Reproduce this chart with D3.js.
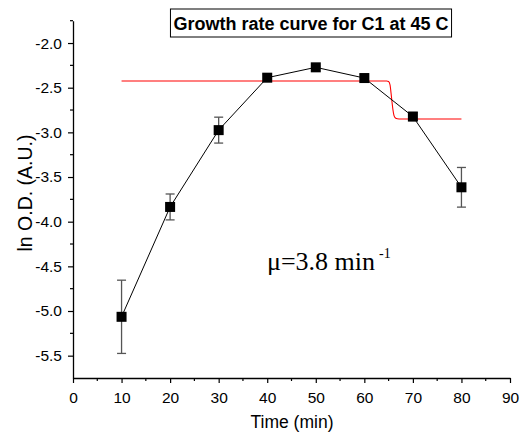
<!DOCTYPE html>
<html><head><meta charset="utf-8">
<script src="https://cdn.jsdelivr.net/npm/d3@7"></script>
<style>body{margin:0;background:#fff}svg{display:block}</style>
</head><body>
<script>
const timeMin = [10, 20, 30, 40, 50, 60, 70, 80];
const lnOD = [-5.065, -3.835, -2.975, -2.388, -2.272, -2.392, -2.823, -3.615];
const errOD = [0.41, 0.145, 0.145, 0.04, 0.012, 0.04, 0.045, 0.222];
const fitX = [10, 64.6, 65.0, 65.3, 65.5, 65.7, 65.9, 66.1, 66.4, 66.8, 67.5, 80];
const fitY = [-2.425, -2.425, -2.43, -2.47, -2.56, -2.66, -2.75, -2.81, -2.84, -2.848, -2.85, -2.85];
const xTicks = [0, 10, 20, 30, 40, 50, 60, 70, 80, 90];
const yTicks = [-2.0, -2.5, -3.0, -3.5, -4.0, -4.5, -5.0, -5.5];
const titleText = "Growth rate curve for C1 at 45 C";

const W = 532, H = 435;
const svg = d3.select("body").append("svg").attr("width", W).attr("height", H);
const x = d3.scaleLinear().domain([0, 90]).range([73, 510]);
const y = d3.scaleLinear().domain([-1.75, -5.75]).range([20.7, 378]);

const font = "Arial, 'Liberation Sans', sans-serif";

// Axes
const xAxis = svg.append("g").attr("transform", `translate(0,${y(-5.75)})`)
  .call(d3.axisBottom(x).tickValues(xTicks).tickFormat(d3.format("d")).tickSize(5).tickSizeOuter(0));
const yAxis = svg.append("g").attr("transform", `translate(${x(0)},0)`)
  .call(d3.axisLeft(y).tickValues(yTicks).tickFormat(d3.format(".1f")).tickSize(5).tickSizeOuter(0));
[xAxis, yAxis].forEach(g => {
  g.select(".domain").attr("stroke", "#000").attr("stroke-width", 1.3);
  g.selectAll(".tick line").attr("stroke", "#000").attr("stroke-width", 1.2);
  g.selectAll(".tick text").attr("font-family", font).attr("font-size", 15.5).attr("fill", "#000");
});
xAxis.selectAll(".tick text").attr("y", 24.5).attr("dy", 0).text(d => String(d));
yAxis.selectAll(".tick text").attr("x", -11).text(d => d3.format(".1f")(d).replace("−", "-"));

// minor ticks
const xMinor = d3.range(5, 90, 10);
svg.append("g").selectAll("line").data(xMinor).join("line")
  .attr("x1", d => x(d)).attr("x2", d => x(d))
  .attr("y1", y(-5.75)).attr("y2", y(-5.75) + 3).attr("stroke", "#000").attr("stroke-width", 1.2);
const yMinor = [-1.75, -2.25, -2.75, -3.25, -3.75, -4.25, -4.75, -5.25];
svg.append("g").selectAll("line").data(yMinor).join("line")
  .attr("x1", x(0) - 3).attr("x2", x(0))
  .attr("y1", d => y(d)).attr("y2", d => y(d)).attr("stroke", "#000").attr("stroke-width", 1.2);

// Fit curve
const fitPts = fitX.map((v, i) => [v, fitY[i]]);
svg.append("path").datum(fitPts)
  .attr("d", d3.line().x(d => x(d[0])).y(d => y(d[1])).curve(d3.curveMonotoneX))
  .attr("fill", "none").attr("stroke", "#ff0000").attr("stroke-width", 1.1);

// Data line
const pts = timeMin.map((t, i) => ({t, v: lnOD[i], e: errOD[i]}));
svg.append("path").datum(pts)
  .attr("d", d3.line().x(d => x(d.t)).y(d => y(d.v)))
  .attr("fill", "none").attr("stroke", "#000").attr("stroke-width", 1);

// Error bars
const eb = svg.append("g").attr("stroke", "#555").attr("stroke-width", 1.3);
pts.forEach(d => {
  eb.append("line").attr("x1", x(d.t)).attr("x2", x(d.t)).attr("y1", y(d.v + d.e)).attr("y2", y(d.v - d.e));
  eb.append("line").attr("x1", x(d.t) - 4.5).attr("x2", x(d.t) + 4.5).attr("y1", y(d.v + d.e)).attr("y2", y(d.v + d.e));
  eb.append("line").attr("x1", x(d.t) - 4.5).attr("x2", x(d.t) + 4.5).attr("y1", y(d.v - d.e)).attr("y2", y(d.v - d.e));
});

// Markers
svg.append("g").selectAll("rect").data(pts).join("rect")
  .attr("x", d => x(d.t) - 5).attr("y", d => y(d.v) - 5)
  .attr("width", 10).attr("height", 10).attr("fill", "#000");

// Title box
const tg = svg.append("g");
const tbox = tg.append("rect");
const tt = tg.append("text").attr("x", 311).attr("y", 29.5).attr("text-anchor", "middle")
  .attr("font-family", font).attr("font-weight", "bold").attr("font-size", 18).text(titleText);
const bb = tt.node().getBBox();
tbox.attr("x", bb.x - 3).attr("y", 9).attr("width", bb.width + 6).attr("height", 28)
  .attr("fill", "#fff").attr("stroke", "#000").attr("stroke-width", 1);

// Annotation
const ann = svg.append("text").attr("x", 267).attr("y", 270)
  .attr("font-family", "'Liberation Serif', 'Times New Roman', serif").attr("font-size", 26).attr("fill", "#000");
ann.append("tspan").text("μ=3.8 min");
ann.append("tspan").attr("font-size", 14).attr("dx", 4).attr("dy", -12).text("-1");

// Axis titles
svg.append("text").attr("x", 292).attr("y", 428).attr("text-anchor", "middle")
  .attr("font-family", font).attr("font-size", 17.5).text("Time (min)");
svg.append("text").attr("transform", `translate(32,193) rotate(-90)`).attr("text-anchor", "middle")
  .attr("font-family", font).attr("font-size", 19.5).text("ln O.D. (A.U.)");
</script>
</body></html>
